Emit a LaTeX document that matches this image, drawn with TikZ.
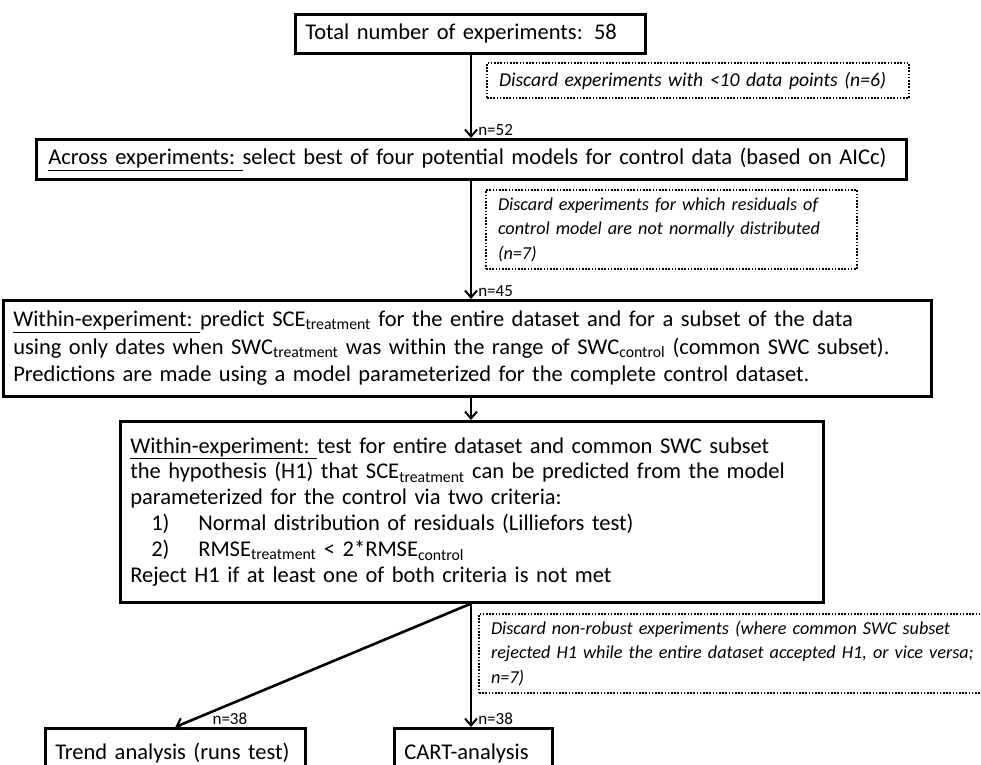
\documentclass[tikz,border=0pt]{standalone}
\usepackage{fontspec}
\setmainfont{Carlito}
\usetikzlibrary{arrows.meta,positioning}
\tikzset{
    box/.style={draw, line width=2.6pt, anchor=north west, align=left, inner xsep=10pt, inner ysep=0pt, font=\fontsize{22.5}{26.5}\selectfont},
    dbox/.style={draw, line width=2pt, dash pattern=on 1.6pt off 1.6pt, anchor=north west, align=left, inner xsep=12pt, inner ysep=0pt, font=\fontsize{18.2}{24.5}\selectfont\itshape},
    flow/.style={line width=2.6pt, -{Straight Barb[length=7pt,width=12pt,line width=2pt]}},
    cnt/.style={font=\fontsize{17}{17}\selectfont, inner sep=1pt, anchor=south west, xshift=5pt}
}

\begin{document}
\begin{tikzpicture}[x=1pt,y=-1pt]
    \useasboundingbox (0,0) rectangle (981,764);
    \clip (0,0) rectangle (981,764);

    \node[box, text width=330pt, minimum height=39pt] (tot) at (294,13) {Total number of experiments: 58};
    \node[dbox, text width=398pt, minimum height=35pt, font=\fontsize{19.6}{24.5}\selectfont\itshape] (d1) at (486,62) {Discard experiments with <10 data points (n=6)};
    \node[box, inner xsep=12pt, text width=846pt, minimum height=40pt] (acr) at (35,138) {\underline{Across experiments:\ }select best of four potential models for control data (based on AICc)};
    \node[dbox, text width=347pt, minimum height=79pt] (d2) at (485,189) {Discard experiments for which residuals of\\control model are not normally distributed\\(n=7)};
    \node[box, text width=908pt, minimum height=96pt, font=\fontsize{22.5}{27.5}\selectfont] (pred) at (2,299) {\underline{Within-experiment:\ }predict SCE\textsubscript{treatment} for the entire dataset and for a subset of the data\\using only dates when SWC\textsubscript{treatment} was within the range of SWC\textsubscript{control} (common SWC subset).\\Predictions are made using a model parameterized for the complete control dataset.};
    \node[box, text width=683pt, minimum height=181pt, font=\fontsize{22.5}{25.8}\selectfont] (test) at (119,420) {\underline{Within-experiment:\ }test for entire dataset and common SWC subset\\the hypothesis (H1) that SCE\textsubscript{treatment} can be predicted from the model\\parameterized for the control via two criteria:\\
        \hspace*{21pt}\makebox[47pt][l]{1)}Normal distribution of residuals (Lilliefors test)\\
        \hspace*{21pt}\makebox[47pt][l]{2)}RMSE\textsubscript{treatment} < 2*RMSE\textsubscript{control}\\
        Reject H1 if at least one of both criteria is not met};
    \node[dbox, text width=560pt, minimum height=79pt] (d3) at (478,613) {Discard non-robust experiments (where common SWC subset\\rejected H1 while the entire dataset accepted H1, or vice versa;\\n=7)};
    \node[box, text width=240pt, minimum height=50pt] (trend) at (44,727) {Trend analysis (runs test)};
    \node[box, text width=138pt, minimum height=50pt] (cart) at (393,727) {CART-analysis};

    \coordinate (ax) at (471,0);
    \draw
    (tot.south -| ax) edge[flow] node[cnt, pos=1] {n=52} (acr.north -| ax)
    (acr.south -| ax) edge[flow] node[cnt, pos=1] {n=45} (pred.north -| ax)
    (pred.south -| ax) edge[flow] (test.north -| ax)
    (test.south -| ax) edge[flow] node[cnt, pos=1, xshift=30pt] {n=38} (trend.north)
    (test.south -| ax) edge[flow] node[cnt, pos=1] {n=38} (cart.north -| ax);
\end{tikzpicture}
\end{document}
